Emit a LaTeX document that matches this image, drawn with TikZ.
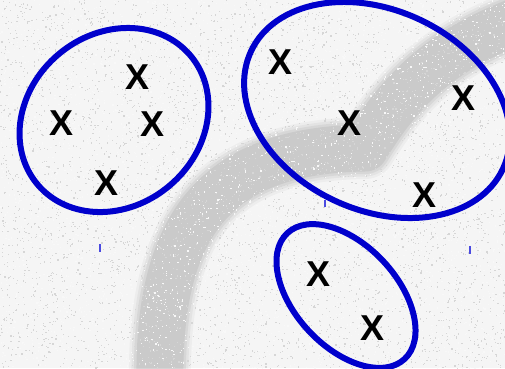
\documentclass[tikz,border=0pt]{standalone}
\usepackage{fontspec}
\setmainfont{Liberation Sans}
\definecolor{ringblue}{HTML}{0000CC}
\definecolor{tickblue}{HTML}{4A4AE0}
\definecolor{speck}{HTML}{F8F8F8}

\begin{document}
\begin{tikzpicture}[x=1pt, y=-1pt, line cap=round, line join=round,
    cluster/.style={draw=ringblue, line width=6pt},
    xmark/.style={font=\fontsize{36}{36}\selectfont\bfseries, inner sep=0pt},
    tickmark/.style={draw=tickblue, line width=1.6pt, line cap=butt}]
    \useasboundingbox (0,0) rectangle (505,368);

    \begin{scope}
        \clip (0,0) rectangle (505,368);
        % 背景 (薄い灰色のざらつき)
        \fill[gray!8] (0,0) rectangle (505,368);
        % 透かしの帯
        \foreach \w/\o in {62/0.03, 57/0.04, 52/0.05, 47/0.06}
            \draw[black, opacity=\o, line width=\w pt, line cap=butt]
                (160,380) .. controls (158,220) and (220,150) .. (365,148)
                .. controls (395,100) and (430,55) .. (515,22);
        \pgfmathsetseed{11}
        \foreach \i in {1,...,5000}
            \fill[gray!32] ({rnd*505},{rnd*368}) rectangle +(1.2,1.2);
        \foreach \i in {1,...,4000}
            \fill[speck] ({rnd*505},{rnd*368}) rectangle +(1.2,1.2);

        % 三つの集まり
        \draw[cluster, rotate around={40:(114,120)}] (114,120) ellipse [x radius=100, y radius=86];
        \draw[cluster, rotate around={-25:(377,110)}] (377,110) ellipse [x radius=139, y radius=100];
        \draw[cluster, rotate around={-47:(346,296)}] (346,296) ellipse [x radius=86, y radius=51];
    \end{scope}

    % 点 X
    \node[xmark] (a1) at (138,77) {X};
    \node[xmark] (a2) at (62,123) {X};
    \node[xmark] (a3) at (153,124) {X};
    \node[xmark] (a4) at (107,183) {X};
    \node[xmark] (b1) at (281,62) {X};
    \node[xmark] (b2) at (349,123) {X};
    \node[xmark] (b3) at (463,98) {X};
    \node[xmark] (b4) at (424,195) {X};
    \node[xmark] (c1) at (319,274) {X};
    \node[xmark] (c2) at (372,328) {X};

    % 小さな目盛り
    \draw[tickmark] (100,244) -- (100,252);
    \draw[tickmark] (325,200) -- (325,207);
    \draw[tickmark] (470,246) -- (470,254);
\end{tikzpicture}
\end{document}
